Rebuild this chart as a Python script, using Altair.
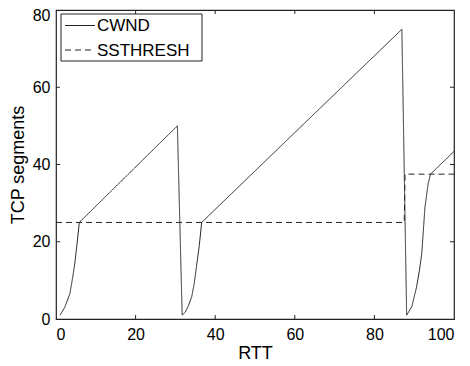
import altair as alt
import pandas as pd

# CWND trace (RTT, segments)
cwnd_x = [1.0, 2.2, 3.5, 4.35, 4.8, 5.2, 5.55, 5.85, 30.5,
          31.7, 32.5, 33.3, 34.1, 34.7, 35.3, 36.0, 36.6, 86.9,
          88.1, 89.4, 90.6, 91.3, 91.9, 92.7, 93.5, 94.1, 100.0]
cwnd_y = [1.0, 3.0, 6.6, 11.8, 15.0, 18.7, 22.0, 25.0, 50.0,
          1.0, 1.8, 3.5, 5.8, 9.0, 13.6, 19.0, 25.0, 75.0,
          1.0, 3.2, 8.3, 12.5, 16.9, 28.9, 35.0, 37.5, 43.4]

# SSTHRESH trace
ss_x = [0.0, 87.5, 87.7, 100.0]
ss_y = [25.0, 25.0, 37.5, 37.5]

x_ticks = [0, 20, 40, 60, 80, 100]
y_ticks = [0, 20, 40, 60, 80]
inner_x_ticks = [20, 40, 60, 80]
inner_y_ticks = [20, 40, 60]

series_names = ["CWND", "SSTHRESH"]

rows = []
for i, (x, y) in enumerate(zip(cwnd_x, cwnd_y)):
    rows.append({"series": "CWND", "x": x, "y": y, "i": i})
for i, (x, y) in enumerate(zip(ss_x, ss_y)):
    rows.append({"series": "SSTHRESH", "x": x, "y": y, "i": i})
df = pd.DataFrame(rows)

W, H = 398, 309
FONT = "Liberation Sans"
INK = "#222222"
DASH = [6, 4]

xscale = alt.Scale(domain=[0, 100], nice=False, zero=False)
yscale = alt.Scale(domain=[0, 80], nice=False, zero=False)

lines = alt.Chart(df).mark_line(color=INK, strokeWidth=1.0).encode(
    x=alt.X("x:Q", scale=xscale,
            axis=alt.Axis(values=x_ticks, title="RTT", domain=False, ticks=False,
                          grid=False, labelPadding=7, titlePadding=2)),
    y=alt.Y("y:Q", scale=yscale,
            axis=alt.Axis(values=y_ticks, title="TCP segments", domain=False,
                          ticks=False, grid=False, labelPadding=6, titlePadding=5,
                          labelOffset={"condition": {"test": "datum.value == 80", "value": 5},
                                       "value": 0})),
    strokeDash=alt.StrokeDash(
        "series:N",
        scale=alt.Scale(domain=series_names, range=[[1, 0], DASH]),
        legend=None,
    ),
    detail="series:N",
    order="i:Q",
)

xt = pd.DataFrame({"t": inner_x_ticks})
yt = pd.DataFrame({"t": inner_y_ticks})

bottom_ticks = alt.Chart(xt).mark_rule(color=INK).encode(
    x=alt.X("t:Q", scale=xscale), y=alt.value(H), y2=alt.value(H - 4))
top_ticks = alt.Chart(xt).mark_rule(color=INK).encode(
    x=alt.X("t:Q", scale=xscale), y=alt.value(0), y2=alt.value(4))
left_ticks = alt.Chart(yt).mark_rule(color=INK).encode(
    y=alt.Y("t:Q", scale=yscale), x=alt.value(0), x2=alt.value(4))
right_ticks = alt.Chart(yt).mark_rule(color=INK).encode(
    y=alt.Y("t:Q", scale=yscale), x=alt.value(W), x2=alt.value(W - 4))

# Legend (drawn as a boxed key in the top-left corner)
one = alt.Data(values=[{}])
leg_box = alt.Chart(one).mark_rect(fill="white", stroke=INK, strokeWidth=1.0).encode(
    x=alt.value(5), x2=alt.value(146), y=alt.value(4), y2=alt.value(51))
leg_solid = alt.Chart(one).mark_rule(color=INK, strokeWidth=1.0).encode(
    x=alt.value(9), x2=alt.value(39), y=alt.value(15.5))
leg_dash = alt.Chart(one).mark_rule(color=INK, strokeWidth=1.0, strokeDash=DASH).encode(
    x=alt.value(9), x2=alt.value(39), y=alt.value(40))
leg_t1 = alt.Chart(one).mark_text(align="left", baseline="middle", font=FONT,
                                  fontSize=17, color="black", text=series_names[0]).encode(
    x=alt.value(41), y=alt.value(16))
leg_t2 = alt.Chart(one).mark_text(align="left", baseline="middle", font=FONT,
                                  fontSize=17, color="black", text=series_names[1]).encode(
    x=alt.value(41), y=alt.value(40.5))

chart = alt.layer(lines, bottom_ticks, top_ticks, left_ticks, right_ticks,
                  leg_box, leg_solid, leg_dash, leg_t1, leg_t2).properties(
    width=W, height=H,
    autosize=alt.AutoSizeParams(type="none"),
    padding={"left": 48, "top": 2, "right": 8, "bottom": 45},
    background="white",
).configure_view(stroke=INK, strokeWidth=1.2).configure_axis(
    labelFont=FONT, labelFontSize=16, labelColor="black",
    titleFont=FONT, titleFontSize=18, titleColor="black", titleFontWeight="normal",
)

chart.save("out.html", embed_options={"renderer": "svg", "actions": False})
